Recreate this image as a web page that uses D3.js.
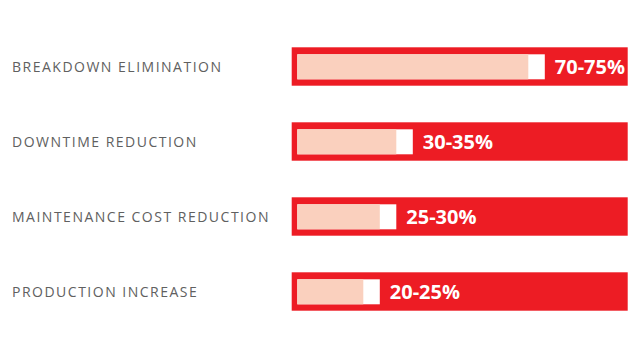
<!DOCTYPE html>
<html><head><meta charset="utf-8">
<script src="https://cdn.jsdelivr.net/npm/d3@7"></script>
<style>body{margin:0;background:#fff}svg{display:block}</style>
</head><body>
<script>
const categories = ["BREAKDOWN ELIMINATION","DOWNTIME REDUCTION","MAINTENANCE COST REDUCTION","PRODUCTION INCREASE"];
const lowValues = [70,30,25,20];
const highValues = [75,35,30,25];
const valueLabels = ["70-75%","30-35%","25-30%","20-25%"];

const W=640,H=360;
const svg=d3.select("body").append("svg").attr("width",W).attr("height",H);
const x=d3.scaleLinear().domain([0,100]).range([297.3,627.3]);
const pad=36.6/75;
const yb=d3.scaleBand().domain(categories).range([47.3,47.3+75*(4-pad)]).paddingInner(pad).paddingOuter(0);

const g=svg.selectAll("g.row").data(categories).join("g").attr("class","row");
g.append("rect").attr("x",291.7).attr("width",336).attr("y",d=>yb(d)).attr("height",yb.bandwidth()).attr("fill","#ED1C24");
g.append("rect").attr("x",x(0)).attr("y",d=>yb(d)+7).attr("height",yb.bandwidth()-13.4)
 .attr("width",(d,i)=>x(highValues[i])-x(0)).attr("fill","#ffffff");
g.append("rect").attr("x",x(0)).attr("y",d=>yb(d)+7).attr("height",yb.bandwidth()-13.4)
 .attr("width",(d,i)=>x(lowValues[i])-x(0)).attr("fill","#FAD0BE");
g.append("text").attr("x",(d,i)=>x(highValues[i])+10).attr("y",d=>yb(d)+yb.bandwidth()/2+7)
 .attr("fill","#fff").attr("font-family","'Open Sans',sans-serif").attr("font-weight",700).attr("font-size",20)
 .text((d,i)=>valueLabels[i]);
g.append("text").attr("x",12).attr("y",d=>yb(d)+yb.bandwidth()/2+5)
 .attr("fill","#606060").attr("font-family","'Open Sans',sans-serif").attr("font-size",14).attr("letter-spacing",1.5)
 .text(d=>d);
</script>
</body></html>
